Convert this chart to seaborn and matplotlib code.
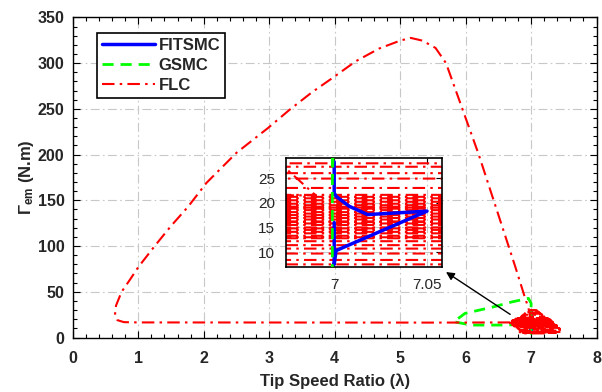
import numpy as np
import matplotlib
matplotlib.use('Agg')
import matplotlib.pyplot as plt
import seaborn as sns
from matplotlib.ticker import MultipleLocator

# --- datos ---
# FLC: lazo grande (fondo -> izquierda -> pico -> bajada)
flc_lazo_x = [6.68, 5.5, 4.0, 2.5, 1.0, 0.78, 0.68, 0.645, 0.66, 0.745, 0.87, 1.0, 1.25,
              1.5, 1.76, 2.04, 2.5, 2.98, 3.31, 3.65, 4.0, 4.32, 4.68, 5.0, 5.16, 5.34,
              5.54, 5.70, 5.95, 6.2, 6.5, 6.76, 6.9, 6.96, 6.975, 6.99]
flc_lazo_y = [16.5, 16.3, 16.4, 16.5, 16.5, 16.8, 19.0, 26.0, 35.0, 50.0, 63.0, 77.0, 100.0,
              122.0, 143.0, 169.0, 202.0, 229.0, 249.0, 268.0, 285.5, 302.0, 316.0, 324.6, 327.6, 324.6,
              316.6, 300.0, 250.0, 200.0, 134.0, 77.0, 45.0, 32.0, 26.6, 21.5]

# FLC: nube de oscilaciones alrededor de lambda = 7 (niveles y extremos)
flc_niveles = [21.6, 21.2, 20.9, 20.5, 20.2, 19.8, 19.5, 19.2, 19.0, 18.8, 18.5, 18.1,
               17.8, 17.5, 17.2, 16.9, 16.6, 16.1, 15.8, 15.5, 15.0, 14.8, 14.5, 14.1,
               13.8, 13.3, 13.0, 12.8, 12.2, 11.4, 10.7, 9.7, 8.4, 7.5, 6.5, 6.0,
               5.5, 5.0, 4.5,
               23.0, 24.9, 26.0, 27.3, 28.0, 30.0, 16.2]
flc_izq = [6.80, 6.83, 6.79, 6.76, 6.77, 6.745, 6.75, 6.78, 6.74, 6.715, 6.73, 6.72,
           6.705, 6.74, 6.70, 6.725, 6.69, 6.70, 6.68, 6.695, 6.69, 6.72, 6.70, 6.735,
           6.71, 6.74, 6.73, 6.755, 6.74, 6.76, 6.79, 6.80, 6.82, 6.84, 6.86, 6.80,
           6.88, 6.84, 6.92,
           6.85, 6.88, 6.90, 6.92, 6.93, 6.95, 6.68]
flc_der = [7.22, 7.25, 7.24, 7.265, 7.26, 7.29, 7.28, 7.245, 7.30, 7.275, 7.29, 7.315,
           7.32, 7.295, 7.30, 7.335, 7.33, 7.35, 7.32, 7.305, 7.35, 7.33, 7.36, 7.345,
           7.37, 7.39, 7.36, 7.405, 7.39, 7.42, 7.40, 7.44, 7.46, 7.43, 7.40, 7.45,
           7.35, 7.38, 7.25,
           7.20, 7.17, 7.15, 7.12, 7.10, 7.08, 7.30]

# GSMC
gsmc_x = [6.999, 6.999, 6.8, 6.5, 6.09, 5.82, 5.99, 6.43, 6.71, 6.96, 7.0, 6.999]
gsmc_y = [29.5, 4.5, 14.0, 13.6, 13.6, 17.2, 26.4, 33.6, 39.0, 42.8, 37.3, 25.0]

# FITSMC
fitsmc_x = [7.0, 7.0, 7.001, 7.008, 7.018, 7.05, 7.001, 7.0, 7.0]
fitsmc_y = [28.3, 22.0, 21.3, 19.3, 17.6, 18.3, 10.3, 7.5, 16.0]

x_ticks = [0, 1, 2, 3, 4, 5, 6, 7, 8]
y_ticks = [0, 50, 100, 150, 200, 250, 300, 350]
zoom_xticks = [7, 7.05]
zoom_xlabels = ['7', '7.05']
zoom_yticks = [10, 15, 20, 25]

# camino de la nube (barrido alternado izquierda/derecha)
nube_x, nube_y = [], []
for i, (yv, xl, xr) in enumerate(zip(flc_niveles, flc_izq, flc_der)):
    if i % 2 == 0:
        nube_x += [xl, xr]
    else:
        nube_x += [xr, xl]
    nube_y += [yv, yv]
flc_x = flc_lazo_x + nube_x
flc_y = flc_lazo_y + nube_y

sns.set_theme(style='white')
plt.rcParams['font.family'] = ['Liberation Sans', 'DejaVu Sans']
plt.rcParams['mathtext.fontset'] = 'custom'
plt.rcParams['mathtext.rm'] = 'Liberation Sans'
plt.rcParams['mathtext.bf'] = 'Liberation Sans:bold'
plt.rcParams['mathtext.it'] = 'Liberation Sans:italic'

azul = (0, 0, 1)
verde = (0, 1, 0)
rojo = (1, 0, 0)
ls_gsmc = (0, (4, 2.5))
ls_flc = (0, (6, 2.5, 1.2, 2.5))

fig = plt.figure(figsize=(6.02, 3.92), dpi=100)
ax = fig.add_axes([0.121, 0.139, 0.870, 0.8166])

sns.lineplot(x=fitsmc_x, y=fitsmc_y, sort=False, estimator=None, ax=ax, color=azul,
             lw=2.5, label='FITSMC', zorder=2)
sns.lineplot(x=gsmc_x, y=gsmc_y, sort=False, estimator=None, ax=ax, color=verde,
             lw=2, linestyle=ls_gsmc, label='GSMC', zorder=3)
sns.lineplot(x=flc_x, y=flc_y, sort=False, estimator=None, ax=ax, color=rojo,
             lw=1.5, linestyle=ls_flc, label='FLC', zorder=4)

ax.set_xlim(0, 8)
ax.set_ylim(0, 350)
ax.set_xticks(x_ticks)
ax.set_yticks(y_ticks)
ax.xaxis.set_minor_locator(MultipleLocator(0.2))
ax.yaxis.set_minor_locator(MultipleLocator(10))
ax.tick_params(which='both', direction='in', top=True, right=True, bottom=True, left=True,
               color='black', width=0.8)
ax.tick_params(which='major', length=5, labelsize=11.5)
ax.tick_params(axis='x', which='major', pad=10)
ax.tick_params(axis='y', which='major', pad=6)
ax.tick_params(which='minor', length=3)
for lab in ax.get_xticklabels() + ax.get_yticklabels():
    lab.set_fontweight('bold')
ax.grid(True, which='major', color='#c8c8c8', linestyle=(0, (8, 3, 1.5, 3)), lw=0.8)
for s in ax.spines.values():
    s.set_color('black')
    s.set_linewidth(1.0)

ax.set_xlabel('Tip Speed Ratio (λ)', fontsize=12, fontweight='bold', labelpad=5)
ax.set_ylabel(r'$\mathbf{\Gamma_{em}}$ (N.m)', fontsize=12, fontweight='bold', labelpad=1)

leg = ax.legend(loc='upper left', bbox_to_anchor=(0.046, 0.951), borderaxespad=0,
                prop={'weight': 'bold', 'size': 12}, handlelength=3.2, handletextpad=0.2,
                labelspacing=0.3, borderpad=0.3, fancybox=False, framealpha=1)
leg.get_frame().set_edgecolor('black')
leg.get_frame().set_linewidth(1.2)

ax.annotate('', xy=(5.70, 71.6), xytext=(6.68, 25.3),
            arrowprops=dict(arrowstyle='-|>', color='black', lw=1, mutation_scale=12,
                            shrinkA=0, shrinkB=0), zorder=6)

# --- ampliacion ---
axz = fig.add_axes([0.475, 0.318, 0.259, 0.278])
sns.lineplot(x=flc_x, y=flc_y, sort=False, estimator=None, ax=axz, color=rojo,
             lw=1.5, linestyle=ls_flc, zorder=2, legend=False)
sns.lineplot(x=fitsmc_x, y=fitsmc_y, sort=False, estimator=None, ax=axz, color=azul,
             lw=2.5, zorder=3, legend=False)
sns.lineplot(x=gsmc_x, y=gsmc_y, sort=False, estimator=None, ax=axz, color=verde,
             lw=2, linestyle=ls_gsmc, zorder=4, legend=False)
axz.set_xlim(6.974, 7.058)
axz.set_ylim(6.9, 29.0)
axz.set_xticks(zoom_xticks)
axz.set_xticklabels(zoom_xlabels)
axz.set_yticks(zoom_yticks)
axz.tick_params(which='both', direction='in', top=True, right=True, color='black',
                width=0.8, length=4, labelsize=11, pad=8)
axz.grid(True, color='#c8c8c8', linestyle=(0, (8, 3, 1.5, 3)), lw=0.8)
axz.set_facecolor('white')
for s in axz.spines.values():
    s.set_color('black')
    s.set_linewidth(1.2)

fig.savefig('out.png', dpi=100)
